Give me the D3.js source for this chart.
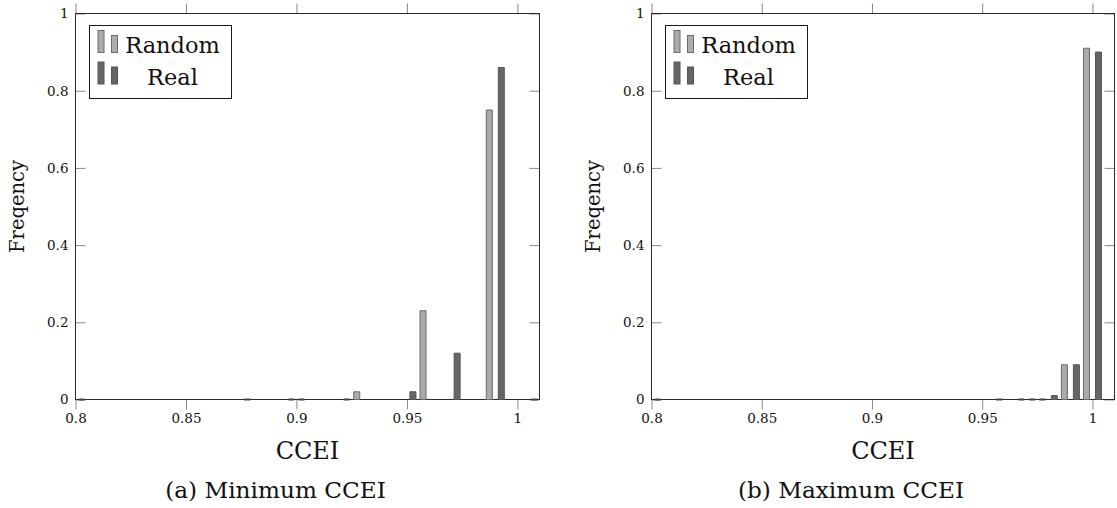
<!DOCTYPE html>
<html>
<head>
<meta charset="utf-8">
<script src="https://cdn.jsdelivr.net/npm/d3@7/dist/d3.min.js"></script>
<style>
  html, body { margin: 0; padding: 0; background: #fff; }
  svg { display: block; }
  text { font-family: "DejaVu Serif", "Liberation Serif", serif; fill: #111; }
</style>
</head>
<body>
<svg id="fig" width="1117" height="508"></svg>
<script>
// Minimum CCEI histogram
const minRandomX = [0.905, 0.93, 0.96, 0.99];
const minRandom  = [0, 0.02, 0.23, 0.75];
const minRealX   = [0.8, 0.875, 0.895, 0.92, 0.95, 0.97, 0.99, 1.005];
const minReal    = [0, 0, 0, 0, 0.02, 0.12, 0.86, 0];

// Maximum CCEI histogram
const maxRandomX = [0.98, 0.99, 1.0];
const maxRandom  = [0, 0.09, 0.91];
const maxRealX   = [0.8, 0.955, 0.965, 0.97, 0.98, 0.99, 1.0];
const maxReal    = [0, 0, 0, 0, 0.01, 0.09, 0.90];

const xTicks = [0.8, 0.85, 0.9, 0.95, 1];
const yTicks = [0, 0.2, 0.4, 0.6, 0.8, 1];
const seriesNames = ["Random", "Real"];
const captions = ["(a) Minimum CCEI", "(b) Maximum CCEI"];

const style = {
  Random: { fill: "#ababab", stroke: "#6a6a6a" },
  Real:   { fill: "#666666", stroke: "#555555" }
};

const panels = [
  { left: 75.5, right: 539.5, ylabX: 24, capX: 275.5, legX: 89.5,
    series: [{ name: "Random", xs: minRandomX, ys: minRandom }, { name: "Real", xs: minRealX, ys: minReal }] },
  { left: 651.5, right: 1114.5, ylabX: 600, capX: 851, legX: 665.5,
    series: [{ name: "Random", xs: maxRandomX, ys: maxRandom }, { name: "Real", xs: maxRealX, ys: maxReal }] }
];

const plotTop = 13.5, plotBottom = 399.5;
const barW = 6, shift = 6;
const svg = d3.select("#fig");
const fmt = d => String(+d.toFixed(2));
const serif = '"DejaVu Serif", "Liberation Serif", serif';

panels.forEach((p, i) => {
  const x = d3.scaleLinear().domain([0.8, 1.01]).range([p.left, p.right]);
  const y = d3.scaleLinear().domain([0, 1]).range([plotBottom, plotTop]);
  const g = svg.append("g");

  const clipId = "clip" + i;
  svg.append("clipPath").attr("id", clipId)
    .append("rect").attr("x", p.left).attr("y", plotTop - 3)
    .attr("width", p.right - p.left).attr("height", plotBottom - plotTop + 6);

  // axes
  const tickColor = "#8a8a8a";
  const bx = g.append("g").attr("transform", `translate(0,${plotBottom})`)
    .call(d3.axisBottom(x).tickValues(xTicks).tickSize(10).tickPadding(4).tickFormat(fmt));
  const tx = g.append("g").attr("transform", `translate(0,${plotTop})`)
    .call(d3.axisTop(x).tickValues(xTicks).tickSize(10).tickFormat(""));
  const ly = g.append("g").attr("transform", `translate(${p.left},0)`)
    .call(d3.axisLeft(y).tickValues(yTicks).tickSize(-10).tickPadding(7).tickFormat(fmt));
  const ry = g.append("g").attr("transform", `translate(${p.right},0)`)
    .call(d3.axisRight(y).tickValues(yTicks).tickSize(-10).tickFormat(""));
  [bx, tx, ly, ry].forEach(a => {
    a.select(".domain").remove();
    a.selectAll(".tick line").attr("stroke", tickColor);
    a.selectAll(".tick text").attr("font-family", serif).attr("font-size", 13.5).attr("fill", "#111");
  });

  // frame
  g.append("rect").attr("x", p.left).attr("y", plotTop)
    .attr("width", p.right - p.left).attr("height", plotBottom - plotTop)
    .attr("fill", "none").attr("stroke", "#2a2a2a").attr("stroke-width", 1);

  // bars (as closed paths so zero-height bins still show their outline)
  const bars = g.append("g").attr("clip-path", `url(#${clipId})`);
  p.series.forEach((s, k) => {
    const off = k === 0 ? -shift : shift;
    const data = s.xs.map((v, j) => ({ x: v, y: s.ys[j] }));
    bars.selectAll(null).data(data).enter().append("path")
      .attr("d", d => {
        const x0 = x(d.x) + off - barW / 2, x1 = x0 + barW;
        const y0 = y(0), y1 = y(d.y);
        return `M${x0},${y0}V${y1}H${x1}V${y0}Z`;
      })
      .attr("fill", style[s.name].fill)
      .attr("stroke", d => d.y === 0 ? "#444" : style[s.name].stroke)
      .attr("stroke-width", d => d.y === 0 ? 2 : 1);
  });

  // labels
  g.append("text").attr("x", (p.left + p.right) / 2).attr("y", 459)
    .attr("text-anchor", "middle").attr("font-size", 24).text("CCEI");
  g.append("text")
    .attr("transform", `translate(${p.ylabX},${(plotTop + plotBottom) / 2}) rotate(-90)`)
    .attr("text-anchor", "middle").attr("font-size", 19.5).text("Freqency");
  g.append("text").attr("x", p.capX).attr("y", 498)
    .attr("text-anchor", "middle").attr("font-size", 23.2).text(captions[i]);

  // legend
  const lg = g.append("g").attr("transform", `translate(${p.legX},25.5)`);
  lg.append("rect").attr("width", 142).attr("height", 73)
    .attr("fill", "#fff").attr("stroke", "#1a1a1a").attr("stroke-width", 1);
  seriesNames.forEach((name, k) => {
    const base = 27 + k * 31.5;
    lg.append("rect").attr("x", 8.5).attr("y", base - 22).attr("width", 6).attr("height", 22)
      .attr("fill", style[name].fill).attr("stroke", style[name].stroke);
    lg.append("rect").attr("x", 22).attr("y", base - 17).attr("width", 6).attr("height", 17)
      .attr("fill", style[name].fill).attr("stroke", style[name].stroke);
    lg.append("text").attr("x", 83).attr("y", base + 0.5)
      .attr("text-anchor", "middle").attr("font-size", 22.5).text(name);
  });
});
</script>
</body>
</html>
